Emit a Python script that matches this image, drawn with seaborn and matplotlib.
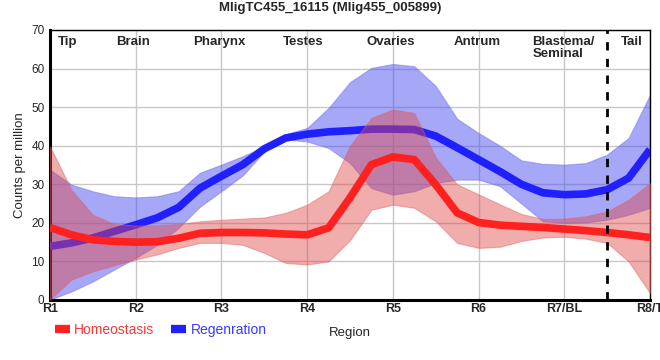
import numpy as np
import pandas as pd
import matplotlib
matplotlib.use("Agg")
import matplotlib.pyplot as plt
import seaborn as sns
from matplotlib.lines import Line2D

# positions (1 = R1 ... 8 = R8/T)
pos = [1, 1.25, 1.5, 1.75, 2, 2.25, 2.5, 2.75, 3, 3.25, 3.5, 3.75, 4, 4.25, 4.5,
       4.75, 5, 5.25, 5.5, 5.75, 6, 6.25, 6.5, 6.75, 7, 7.25, 7.5, 7.75, 8]

homeo_mean = [18.8, 16.9, 15.6, 15.2, 15.0, 15.1, 16.0, 17.3, 17.5, 17.5, 17.4, 17.1, 16.9, 18.7, 26.5,
              35.1, 37.1, 36.4, 29.9, 22.6, 20.1, 19.4, 19.1, 18.8, 18.4, 18.0, 17.5, 16.9, 16.2]
homeo_hi = [39.8, 28.6, 22.1, 19.7, 19.3, 19.4, 19.7, 20.4, 20.8, 21.1, 21.4, 22.6, 24.7, 28.2, 40.0,
            47.2, 49.4, 48.5, 37.0, 30.0, 27.4, 24.8, 22.3, 21.0, 21.1, 21.7, 23.0, 26.0, 30.3]
homeo_lo = [0.1, 5.3, 7.4, 9.0, 10.5, 11.8, 13.5, 14.8, 14.8, 14.3, 12.2, 9.6, 9.2, 10.0, 15.5,
            23.4, 24.7, 23.9, 20.4, 14.8, 13.5, 13.8, 15.3, 16.2, 16.4, 15.9, 14.8, 10.0, 1.8]

regen_mean = [13.9, 14.8, 16.1, 17.8, 19.5, 21.3, 24.0, 29.0, 32.1, 35.1, 39.2, 42.0, 43.0, 43.6, 43.9,
              44.3, 44.3, 44.2, 42.5, 39.5, 36.4, 33.3, 30.0, 27.8, 27.3, 27.5, 28.6, 31.6, 39.0]
regen_hi = [33.8, 29.9, 28.2, 26.9, 26.6, 26.9, 28.2, 33.0, 35.1, 37.3, 39.8, 43.0, 44.6, 49.8, 56.5,
            60.2, 61.2, 60.6, 55.5, 47.0, 43.3, 40.0, 36.2, 35.3, 35.1, 35.5, 37.7, 42.0, 53.2]
regen_lo = [0.1, 2.2, 4.8, 7.9, 10.9, 14.3, 18.7, 24.2, 28.2, 32.3, 38.5, 41.6, 41.1, 39.4, 35.5,
            29.0, 27.3, 28.2, 30.3, 31.2, 31.2, 29.5, 25.0, 20.4, 20.0, 20.1, 20.8, 22.1, 23.9]

tick_labels = ["R1", "R2", "R3", "R4", "R5", "R6", "R7/BL", "R8/T"]
tissues = ["Tip", "Brain", "Pharynx", "Testes", "Ovaries", "Antrum", "Blastema/\nSeminal", "Tail"]
tissue_x = [1.2, 1.97, 2.98, 3.95, 4.97, 5.98, 6.63, 7.79]

df = pd.DataFrame({"pos": pos, "Homeostasis": homeo_mean, "Regenration": regen_mean})

sns.set_theme(style="whitegrid")
plt.rcParams["font.family"] = ["Liberation Sans", "DejaVu Sans"]

fig = plt.figure(figsize=(6.6, 3.6), dpi=100)
ax = fig.add_axes([50 / 660, 60 / 360, 600 / 660, 270 / 360])

red = "#ff2020"
blue = "#2020ff"

ax.fill_between(pos, regen_lo, regen_hi, color="#5050f0", alpha=0.5, lw=0.8, edgecolor="#7070f0", zorder=2)
sns.lineplot(data=df, x="pos", y="Regenration", ax=ax, color=blue, lw=5.5, zorder=3,
             solid_joinstyle="round", solid_capstyle="butt")
ax.fill_between(pos, homeo_lo, homeo_hi, color="#e04848", alpha=0.45, lw=0.8, edgecolor="#e06060", zorder=4)
sns.lineplot(data=df, x="pos", y="Homeostasis", ax=ax, color=red, lw=5.5, zorder=5,
             solid_joinstyle="round", solid_capstyle="butt")

ax.axvline(7.5, color="black", ls=(0, (3, 3)), lw=2, zorder=6)

ax.set_xlim(1, 8)
ax.set_ylim(0, 70)
ax.set_xticks(range(1, 9))
ax.set_xticklabels(tick_labels, fontsize=9, fontweight="bold")
ax.set_yticks(range(0, 71, 10))
ax.tick_params(axis="y", labelsize=8.5, length=3, pad=1)
ax.tick_params(axis="x", length=0, pad=2)
ax.grid(color="#c8c8c8", lw=1)
ax.set_xlabel("Region", fontsize=9.5, labelpad=9)
ax.set_ylabel("Counts per million", fontsize=9.5, labelpad=4)

for side in ["top", "right"]:
    ax.spines[side].set_color("black")
    ax.spines[side].set_linewidth(1)
for side in ["left", "bottom"]:
    ax.spines[side].set_color("black")
    ax.spines[side].set_linewidth(2.2)

for name, xv in zip(tissues, tissue_x):
    ha = "left" if "\n" in name else "center"
    ax.text(xv, 68.5, name, ha=ha, va="top", fontsize=9.5, fontweight="bold", linespacing=1.0, zorder=7)

fig.suptitle("MligTC455_16115 (Mlig455_005899)", x=0.5, y=0.995, fontsize=9.5, fontweight="bold")

handles = [Line2D([], [], color=red, lw=6, solid_capstyle="butt"),
           Line2D([], [], color=blue, lw=6, solid_capstyle="butt")]
leg = fig.legend(handles, ["Homeostasis", "Regenration"], loc="center left",
                 bbox_to_anchor=(0.083, 0.083), ncol=2, frameon=False, fontsize=10,
                 handlelength=1.1, handletextpad=0.3, columnspacing=1.2, borderpad=0, borderaxespad=0)
for txt, c in zip(leg.get_texts(), ["#f03a3a", "#3a3aff"]):
    txt.set_color(c)

fig.savefig("out.png", dpi=100)
